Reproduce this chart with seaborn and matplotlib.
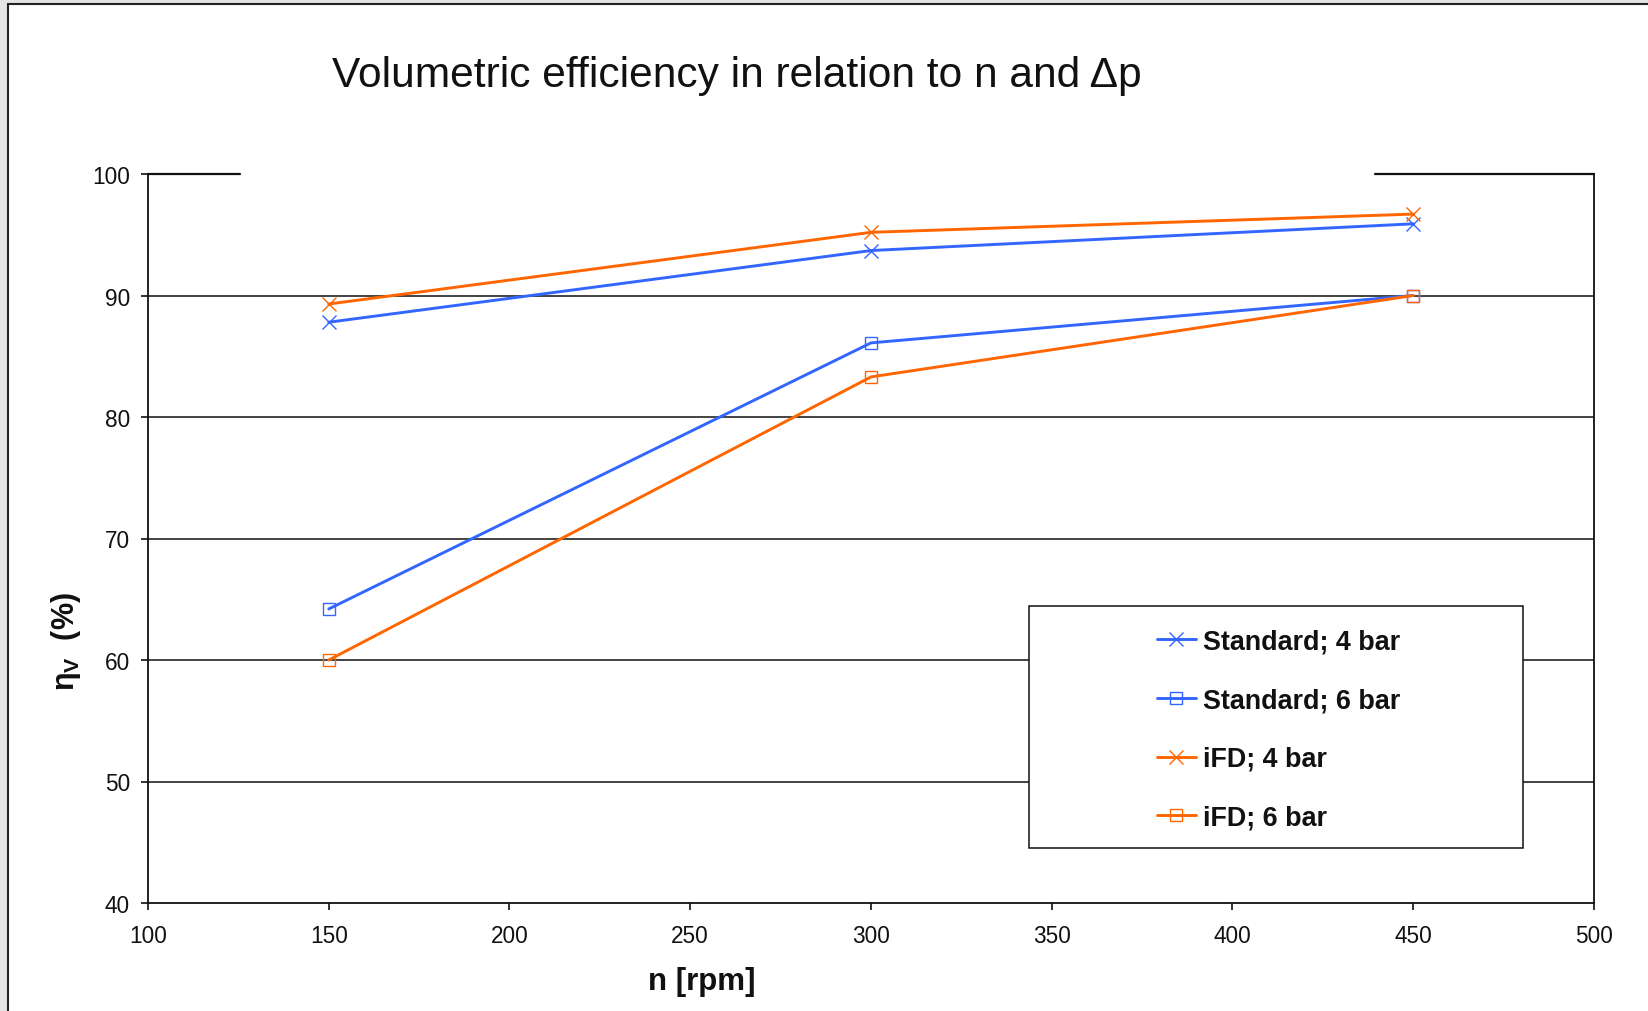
import matplotlib
matplotlib.use("Agg")
import matplotlib.pyplot as plt
from matplotlib.patches import Rectangle
from matplotlib.lines import Line2D
import seaborn as sns
import pandas as pd

# data
speed = [150, 300, 450]
std_4bar = [87.8, 93.7, 95.9]
std_6bar = [64.2, 86.1, 90.0]
ifd_4bar = [89.3, 95.2, 96.7]
ifd_6bar = [60.0, 83.3, 90.0]
labels = ["Standard; 4 bar", "Standard; 6 bar", "iFD; 4 bar", "iFD; 6 bar"]

blue = "#3366ff"
orange = "#ff6600"

sns.set_style("white")
plt.rcParams["font.family"] = ["Liberation Sans", "DejaVu Sans"]
plt.rcParams["mathtext.default"] = "regular"

df = pd.DataFrame({
    "n": speed * 4,
    "eta": std_4bar + std_6bar + ifd_4bar + ifd_6bar,
    "series": [l for l in labels for _ in speed],
})

fig = plt.figure(figsize=(16.49, 10.12), dpi=100)
fig.patch.set_facecolor("#e4e4e4")
# white chart sheet with dark border, behind the axes
sheet = Rectangle((8 / 1649, -0.05), 1.1, 0.05 + 1007 / 1012,
                  transform=fig.transFigure, facecolor="white",
                  edgecolor="#222222", lw=1.5, zorder=-10)
fig.add_artist(sheet)

ax = fig.add_axes([148 / 1649, 108 / 1012, 1446 / 1649, 729 / 1012])
ax.set_facecolor("none")

styles = {
    "Standard; 4 bar": (blue, "x"),
    "Standard; 6 bar": (blue, "s"),
    "iFD; 4 bar": (orange, "x"),
    "iFD; 6 bar": (orange, "s"),
}
handles = []
for lab in labels:
    col, mk = styles[lab]
    sub = df[df["series"] == lab]
    ms = 10 if mk == "x" else 8.5
    sns.lineplot(data=sub, x="n", y="eta", ax=ax, color=col, marker=mk,
                 markersize=ms, markerfacecolor="none", markeredgecolor=col,
                 markeredgewidth=1.0, linewidth=2.1, legend=False, zorder=3)
    handles.append(Line2D([], [], color=col, marker=mk, markersize=ms,
                          markerfacecolor="none", markeredgecolor=col,
                          markeredgewidth=1.0, linewidth=2.1, label=lab))

ax.set_xlim(100, 500)
ax.set_ylim(40, 100)
ax.set_xticks(range(100, 501, 50))
ax.set_yticks(range(40, 101, 10))
ax.tick_params(axis="both", direction="out", length=5, width=1.2,
               color="#111111", labelsize=16.3, labelcolor="#111111")
ax.tick_params(axis="x", pad=10)
ax.tick_params(axis="y", pad=8)
ax.tick_params(left=True, bottom=True)
ax.yaxis.grid(True, color="#111111", lw=1.1, zorder=1)
ax.set_axisbelow(True)
gl = ax.yaxis.get_gridlines()
gl[0].set_visible(False)
gl[-1].set_visible(False)

for side in ["left", "bottom", "right"]:
    ax.spines[side].set_color("#111111")
    ax.spines[side].set_linewidth(1.3)
ax.spines["top"].set_visible(False)
# top border is interrupted behind the title area
ax.plot([0, 0.0636], [1, 1], transform=ax.transAxes, color="#111111",
        lw=1.6, clip_on=False, zorder=4)
ax.plot([0.8486, 1], [1, 1], transform=ax.transAxes, color="#111111",
        lw=1.6, clip_on=False, zorder=4)

ax.set_xlabel("n [rpm]", fontsize=22.5, fontweight="bold", color="#111111")
ax.xaxis.set_label_coords(0.383, -0.086)
ax.set_ylabel("η$_{V}$  (%)", fontsize=22, fontweight="bold", color="#111111")
ax.yaxis.set_label_coords(-0.045, 0.36)

# legend box
ax.add_patch(Rectangle((0.609, 0.0754), 0.342, 0.332, transform=ax.transAxes,
                       facecolor="white", edgecolor="#111111", lw=1.1, zorder=5))
leg = ax.legend(handles=handles, loc="center", bbox_to_anchor=(0.782, 0.238),
                frameon=False, prop={"size": 19.4, "weight": "bold"},
                handlelength=1.45, handletextpad=0.28, labelspacing=1.22)
leg.set_zorder(6)
for t in leg.get_texts():
    t.set_color("#111111")

fig.text(737 / 1649, 1 - 76 / 1012, "Volumetric efficiency in relation to n and Δp",
         fontsize=30.6, ha="center", va="center", color="#111111")

fig.savefig("out.png", dpi=100)
